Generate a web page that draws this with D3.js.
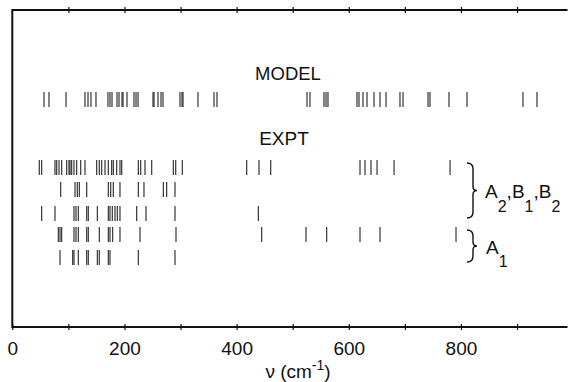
<!DOCTYPE html>
<html>
<head>
<meta charset="utf-8">
<script src="https://cdn.jsdelivr.net/npm/d3@7"></script>
<style>
  html, body { margin: 0; padding: 0; background: #fff; }
  svg { display: block; font-family: "Liberation Sans", Arial, Helvetica, sans-serif; }
</style>
</head>
<body>
<svg id="chart" width="570" height="382"></svg>
<script>
// ---- data (frequencies in cm^-1) ----
const modelFreqs = [56.5, 65.4, 95.8, 129.6, 135, 140.3, 149.2, 170.6, 174.2, 177.8, 186.7, 190.3,
  195.6, 197.4, 204.5, 217, 220.6, 224.2, 250.9, 252.7, 259.8, 265.2, 268.7, 299, 302.6, 304.4,
  331.1, 359.7, 365, 525.5, 530.8, 555.8, 559.4, 562.9, 614.6, 618.2, 625.3, 632.5, 645, 655.7,
  666.4, 691.3, 696.7, 741.3, 744.8, 778.7, 810.8, 910.6, 935.6];
const exptRow1 = [48.1, 52.4, 76.1, 79.2, 83.3, 88.1, 97, 101.1, 102.9, 105.9, 110, 114.8, 122,
  129.6, 150.5, 155.1, 159.4, 165.3, 171.2, 177.2, 180.1, 186.2, 192, 195.1, 224.7, 229, 236.6,
  248.6, 287.1, 291.4, 303.1, 418, 439.9, 460.8, 620, 628.9, 639.6, 650.4, 680.7, 780.6];
const exptRow2 = [86.3, 111.8, 115.9, 119.5, 132.7, 171.2, 175.5, 180.1, 192, 224.7, 234.8,
  269.3, 275.3, 290.1];
const exptRow3 = [52.4, 76.1, 110, 113.6, 117.7, 132.7, 135.5, 151.6, 171.2, 174.2, 178.3, 183.1,
  187.2, 192, 221.8, 238.4, 290.1, 438.7];
const exptRow4 = [82, 85.1, 88.1, 110, 113.6, 117.7, 132.7, 135.5, 155.1, 171.2, 174.2, 179, 192,
  227.7, 291.9, 444.7, 523.7, 560.6, 620, 655.7, 791.2];
const exptRow5 = [85.1, 107.7, 110, 117.7, 132.7, 135.5, 151.6, 155.1, 171.2, 174.2, 224.7, 290.1];
const rowNames = ["model", "e1", "e2", "e3", "e4", "e5"];
const tickValues = [0, 100, 200, 300, 400, 500, 600, 700, 800, 900];
const tickLabels = [0, 200, 400, 600, 800];
const xDomain = [0, 990];

// ---- layout ----
const svg = d3.select("#chart");
const left = 12.3, right = 567.5, topY = 10, bottomY = 327;
const x = d3.scaleLinear().domain(xDomain).range([left, right]);
const rowY = d3.scaleOrdinal().domain(rowNames).range([92, 160, 182, 206, 227, 250]);
const barH = 15;

// frame
const g = svg.append("g").attr("stroke", "#111").attr("fill", "none");
g.append("line").attr("x1", left).attr("x2", right).attr("y1", topY).attr("y2", topY).attr("stroke-width", 2);
g.append("line").attr("x1", left).attr("x2", right).attr("y1", bottomY).attr("y2", bottomY).attr("stroke-width", 2);
g.append("line").attr("x1", left).attr("x2", left).attr("y1", topY - 1).attr("y2", bottomY + 1).attr("stroke-width", 2);

// bottom axis
const axB = svg.append("g").attr("transform", `translate(0,${bottomY})`)
  .call(d3.axisBottom(x).tickValues(tickValues).tickSizeInner(3).tickSizeOuter(0)
    .tickFormat(d => tickLabels.includes(d) ? d : ""));
axB.select(".domain").remove();
axB.selectAll(".tick line").attr("y1", -3).attr("stroke", "#111").attr("stroke-width", 1.2);
axB.selectAll(".tick text").attr("font-size", 19).attr("fill", "#111").attr("dy", 0).attr("y", 28)
  .attr("font-family", "'Liberation Sans', Arial, sans-serif");

// top axis (ticks only)
const axT = svg.append("g").attr("transform", `translate(0,${topY})`)
  .call(d3.axisTop(x).tickValues(tickValues.slice(1)).tickSizeInner(3).tickSizeOuter(0).tickFormat(""));
axT.select(".domain").remove();
axT.selectAll(".tick line").attr("y1", 3).attr("stroke", "#111").attr("stroke-width", 1.2);

// axis title
const title = svg.append("text").attr("x", 298).attr("y", 378).attr("text-anchor", "middle")
  .attr("font-size", 19).attr("fill", "#111");
title.append("tspan").text("ν (cm");
title.append("tspan").attr("dy", -8).attr("font-size", 14).text("-1");
title.append("tspan").attr("dy", 8).text(")");

// bars
const rows = [
  {name: "model", vals: modelFreqs},
  {name: "e1", vals: exptRow1},
  {name: "e2", vals: exptRow2},
  {name: "e3", vals: exptRow3},
  {name: "e4", vals: exptRow4},
  {name: "e5", vals: exptRow5}
];
rows.forEach(r => {
  svg.append("g").selectAll("line").data(r.vals).join("line")
    .attr("x1", d => x(d)).attr("x2", d => x(d))
    .attr("y1", rowY(r.name)).attr("y2", rowY(r.name) + barH)
    .attr("stroke", "#222").attr("stroke-width", 1.1);
});

// labels
svg.append("text").attr("x", 288).attr("y", 80).attr("text-anchor", "middle")
  .attr("font-size", 18.5).attr("fill", "#111").text("MODEL");
svg.append("text").attr("x", 284).attr("y", 145).attr("text-anchor", "middle")
  .attr("font-size", 19).attr("fill", "#111").text("EXPT");

// braces
function brace(y0, y1, xl, xr) {
  const ym = (y0 + y1) / 2;
  return `M${xl},${y0} Q${xr},${y0} ${xr},${y0 + 6} L${xr},${ym - 4} Q${xr},${ym} ${xr + 4},${ym}`
    + ` Q${xr},${ym} ${xr},${ym + 4} L${xr},${y1 - 6} Q${xr},${y1} ${xl},${y1}`;
}
svg.append("path").attr("d", brace(163, 218, 467, 473))
  .attr("fill", "none").attr("stroke", "#111").attr("stroke-width", 1.4);
svg.append("path").attr("d", brace(230, 262, 467, 473))
  .attr("fill", "none").attr("stroke", "#111").attr("stroke-width", 1.4);

const lab1 = svg.append("text").attr("x", 485).attr("y", 198).attr("font-size", 19).attr("fill", "#111");
lab1.append("tspan").text("A");
lab1.append("tspan").attr("dy", 14).attr("font-size", 16).text("2");
lab1.append("tspan").attr("dy", -14).text(",");
lab1.append("tspan").text("B");
lab1.append("tspan").attr("dy", 14).attr("font-size", 16).text("1");
lab1.append("tspan").attr("dy", -14).text(",");
lab1.append("tspan").text("B");
lab1.append("tspan").attr("dy", 14).attr("font-size", 16).text("2");

const lab2 = svg.append("text").attr("x", 486).attr("y", 254).attr("font-size", 19).attr("fill", "#111");
lab2.append("tspan").text("A");
lab2.append("tspan").attr("dy", 13).attr("font-size", 16).text("1");
</script>
</body>
</html>
